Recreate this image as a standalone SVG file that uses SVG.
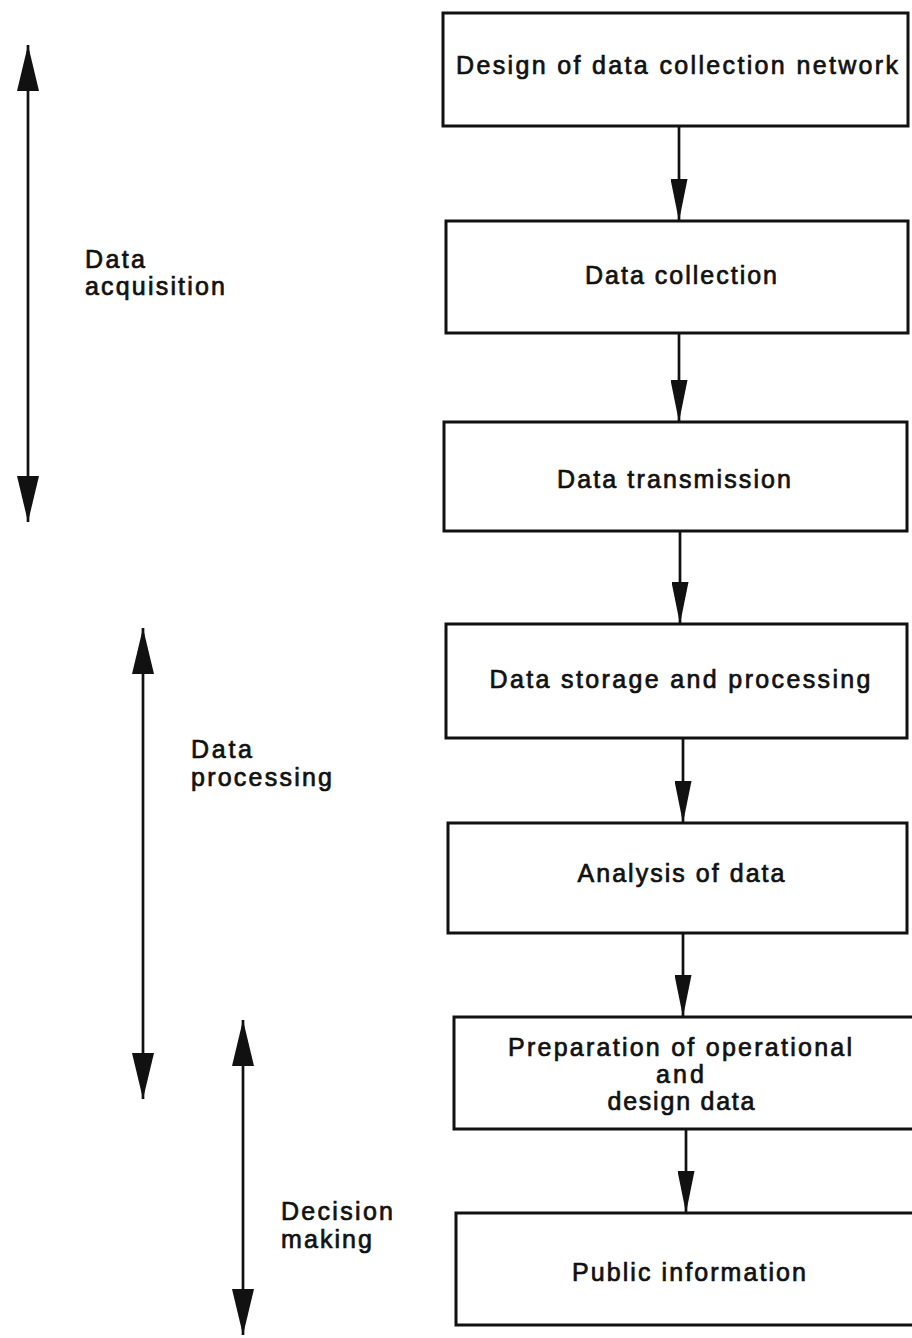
<svg xmlns="http://www.w3.org/2000/svg" width="912" height="1338" viewBox="0 0 912 1338">
<style>
.box{fill:#fff;stroke:#111;stroke-width:3}
.t{font-family:"Liberation Sans",Arial,sans-serif;font-size:25px;fill:#111;stroke:#111;stroke-width:0.7;text-anchor:middle}
.l{font-family:"Liberation Sans",Arial,sans-serif;font-size:25px;fill:#111;stroke:#111;stroke-width:0.7}
.c{stroke:#111;stroke-width:2.7;fill:none}
</style>
<defs>
<marker id="ah" viewBox="0 0 42 17" refX="42" refY="8.5" markerWidth="42" markerHeight="17" markerUnits="userSpaceOnUse" orient="auto">
<path d="M0,0 L42,8.5 L0,17 z" fill="#111"/>
</marker>
<marker id="bh" viewBox="0 0 46 22" refX="46" refY="11" markerWidth="46" markerHeight="22" markerUnits="userSpaceOnUse" orient="auto-start-reverse">
<path d="M0,0 L46,11 L0,22 z" fill="#111"/>
</marker>
</defs>
<rect width="912" height="1338" fill="#fff"/>
<g id="connectors">
<line class="c" x1="679" y1="126" x2="679" y2="221" marker-end="url(#ah)"/>
<line class="c" x1="679" y1="333" x2="679" y2="422" marker-end="url(#ah)"/>
<line class="c" x1="680" y1="531" x2="680" y2="624" marker-end="url(#ah)"/>
<line class="c" x1="683" y1="738" x2="683" y2="823" marker-end="url(#ah)"/>
<line class="c" x1="683" y1="933" x2="683" y2="1017" marker-end="url(#ah)"/>
<line class="c" x1="686" y1="1129" x2="686" y2="1213" marker-end="url(#ah)"/>
<line class="c" x1="28" y1="45" x2="28" y2="522" marker-start="url(#bh)" marker-end="url(#bh)"/>
<line class="c" x1="143" y1="628" x2="143" y2="1099" marker-start="url(#bh)" marker-end="url(#bh)"/>
<line class="c" x1="243" y1="1020" x2="243" y2="1335" marker-start="url(#bh)" marker-end="url(#bh)"/>
</g>
<g id="n1"><rect class="box" x="443" y="13" width="465" height="113"/><text class="t" x="677" y="74" textLength="442" lengthAdjust="spacing">Design of data collection network</text></g>
<g id="n2"><rect class="box" x="446" y="221" width="462" height="112"/><text class="t" x="681" y="284" textLength="192" lengthAdjust="spacing">Data collection</text></g>
<g id="n3"><rect class="box" x="444" y="422" width="463" height="109"/><text class="t" x="674" y="488" textLength="234" lengthAdjust="spacing">Data transmission</text></g>
<g id="n4"><rect class="box" x="446" y="624" width="461" height="114"/><text class="t" x="680" y="688" textLength="381" lengthAdjust="spacing">Data storage and processing</text></g>
<g id="n5"><rect class="box" x="448" y="823" width="459" height="110"/><text class="t" x="681" y="882" textLength="207" lengthAdjust="spacing">Analysis of data</text></g>
<g id="n6"><rect class="box" x="454" y="1017" width="460" height="112"/>
<text class="t" x="680" y="1056" textLength="344" lengthAdjust="spacing">Preparation of operational</text>
<text class="t" x="680" y="1083" textLength="48" lengthAdjust="spacing">and</text>
<text class="t" x="681" y="1110" textLength="147" lengthAdjust="spacing">design data</text></g>
<g id="n7"><rect class="box" x="456" y="1213" width="460" height="112"/><text class="t" x="689" y="1281" textLength="234" lengthAdjust="spacing">Public information</text></g>
<g id="lbl1"><text class="l" x="85" y="268" textLength="60" lengthAdjust="spacing">Data</text><text class="l" x="85" y="295" textLength="140" lengthAdjust="spacing">acquisition</text></g>
<g id="lbl2"><text class="l" x="191" y="758" textLength="61" lengthAdjust="spacing">Data</text><text class="l" x="191" y="786" textLength="141" lengthAdjust="spacing">processing</text></g>
<g id="lbl3"><text class="l" x="281" y="1220" textLength="112" lengthAdjust="spacing">Decision</text><text class="l" x="281" y="1248" textLength="91" lengthAdjust="spacing">making</text></g>
</svg>
